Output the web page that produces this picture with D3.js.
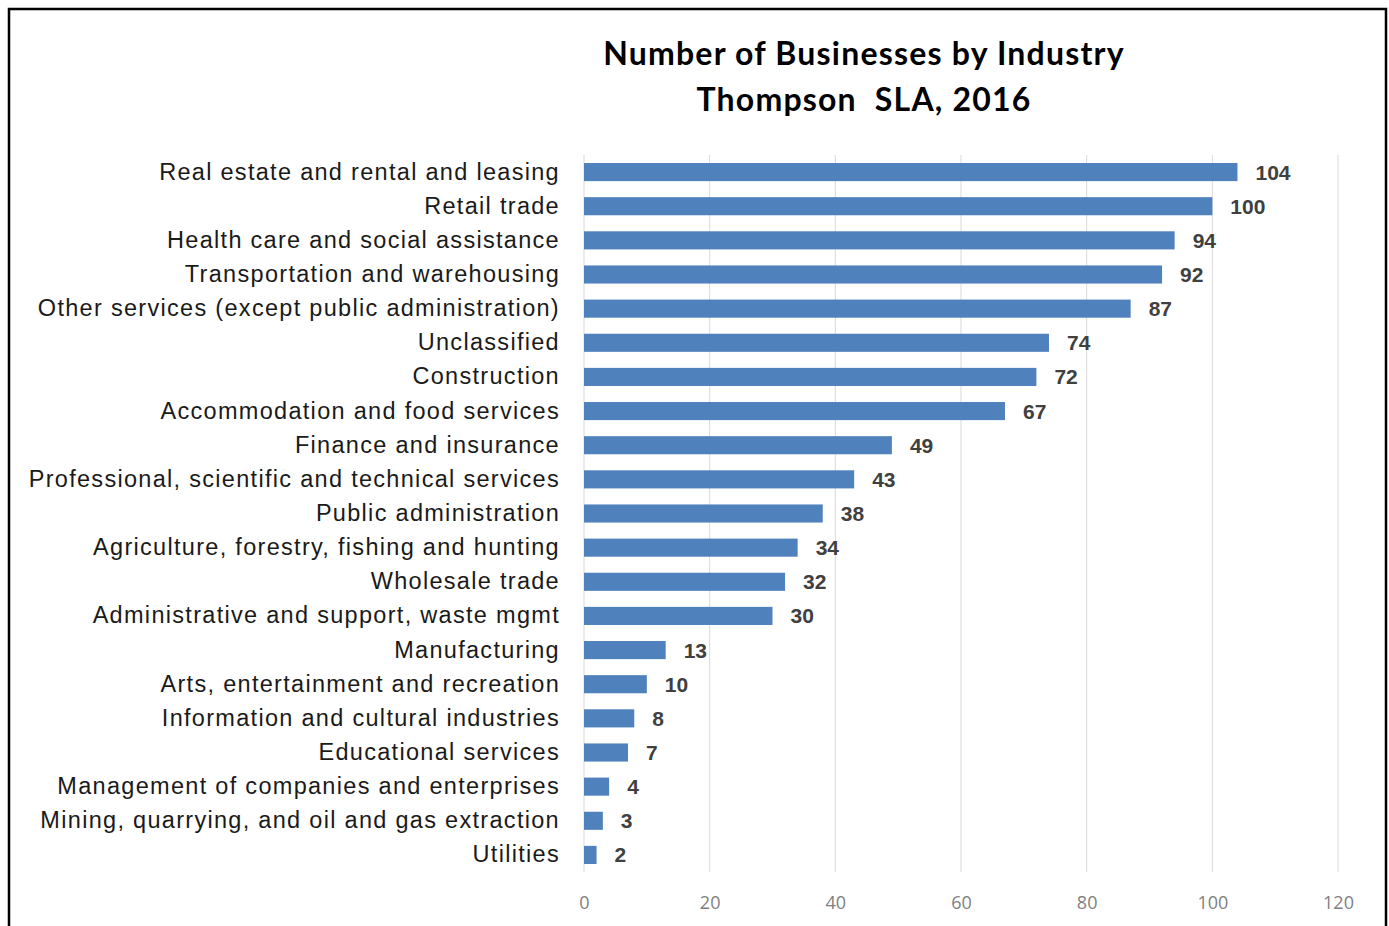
<!DOCTYPE html>
<meta charset="utf-8">
<style>
  body { margin: 0; background: #fff; }
  svg { display: block; }
</style>
<svg width="1389" height="926"></svg>
<script src="https://cdn.jsdelivr.net/npm/d3@7"></script>
<script>
// chart data
var industries = [
    "Real estate and rental and leasing",
    "Retail trade",
    "Health care and social assistance",
    "Transportation and warehousing",
    "Other services (except public administration)",
    "Unclassified",
    "Construction",
    "Accommodation and food services",
    "Finance and insurance",
    "Professional, scientific and technical services",
    "Public administration",
    "Agriculture, forestry, fishing and hunting",
    "Wholesale trade",
    "Administrative and support, waste mgmt",
    "Manufacturing",
    "Arts, entertainment and recreation",
    "Information and cultural industries",
    "Educational services",
    "Management of companies and enterprises",
    "Mining, quarrying, and oil and gas extraction",
    "Utilities"
];
var businesses = [104, 100, 94, 92, 87, 74, 72, 67, 49, 43, 38, 34, 32, 30, 13, 10, 8, 7, 4, 3, 2];
var xTicks = [0, 20, 40, 60, 80, 100, 120];
var titleLines = ["Number of Businesses by Industry", "Thompson  SLA, 2016"];

var data = industries.map(function(d, i) { return {name: d, value: businesses[i]}; });

var svg = d3.select("svg"),
    margin = {top: 155, right: 51, bottom: 54, left: 584},
    width = +svg.attr("width"),
    height = +svg.attr("height");

// frame (bottom edge is cropped off in the original)
svg.append("path")
    .attr("d", "M9,926V9H1386V926")
    .attr("fill", "none")
    .attr("stroke", "#000")
    .attr("stroke-width", 2.5);

var x = d3.scaleLinear()
    .domain([0, 120])
    .range([margin.left, width - margin.right]);

var y = d3.scaleBand()
    .domain(industries)
    .range([margin.top, height - margin.bottom])
    .paddingInner(0.47)
    .paddingOuter(0.235);

// gridlines
svg.append("g")
    .selectAll("line")
    .data(xTicks)
    .enter().append("line")
    .attr("x1", function(d) { return x(d); })
    .attr("x2", function(d) { return x(d); })
    .attr("y1", margin.top)
    .attr("y2", height - margin.bottom)
    .attr("stroke", "#d9d9d9")
    .attr("stroke-width", 1);

// bars
svg.append("g")
    .selectAll("rect")
    .data(data)
    .enter().append("rect")
    .attr("x", x(0))
    .attr("y", function(d) { return y(d.name); })
    .attr("width", function(d) { return x(d.value) - x(0); })
    .attr("height", y.bandwidth())
    .attr("fill", "#4f81bd");

// value labels
svg.append("g")
    .selectAll("text")
    .data(data)
    .enter().append("text")
    .attr("x", function(d) { return x(d.value) + 18; })
    .attr("y", function(d) { return y(d.name) + y.bandwidth() / 2; })
    .attr("dy", "0.36em")
    .style("font", "bold 21px 'Liberation Sans', Arial, sans-serif")
    .attr("fill", "#404040")
    .text(function(d) { return d.value; });

// category axis
var yAxis = svg.append("g")
    .attr("transform", "translate(" + x(0) + ",0)")
    .call(d3.axisLeft(y).tickSize(0).tickPadding(24));
yAxis.select(".domain").remove();
yAxis.selectAll("text")
    .style("font", "23.5px 'Liberation Sans', Arial, sans-serif")
    .style("letter-spacing", "1.3px")
    .attr("fill", "#1a1a1a");

// value axis
var xAxis = svg.append("g")
    .attr("transform", "translate(0," + (height - margin.bottom) + ")")
    .call(d3.axisBottom(x).tickValues(xTicks).tickSize(0).tickPadding(24));
xAxis.select(".domain").remove();
xAxis.selectAll("text")
    .style("font", "18px 'Open Sans', 'Liberation Sans', sans-serif")
    .attr("fill", "#7f7f7f");

// title
svg.append("g")
    .selectAll("text")
    .data(titleLines)
    .enter().append("text")
    .attr("x", 864)
    .attr("y", function(d, i) { return 65 + i * 46; })
    .style("text-anchor", "middle")
    .style("white-space", "pre")
    .style("font", "bold 32px Lato, 'Open Sans', sans-serif")
    .style("letter-spacing", "1.2px")
    .attr("fill", "#000")
    .text(function(d) { return d; });
</script>
